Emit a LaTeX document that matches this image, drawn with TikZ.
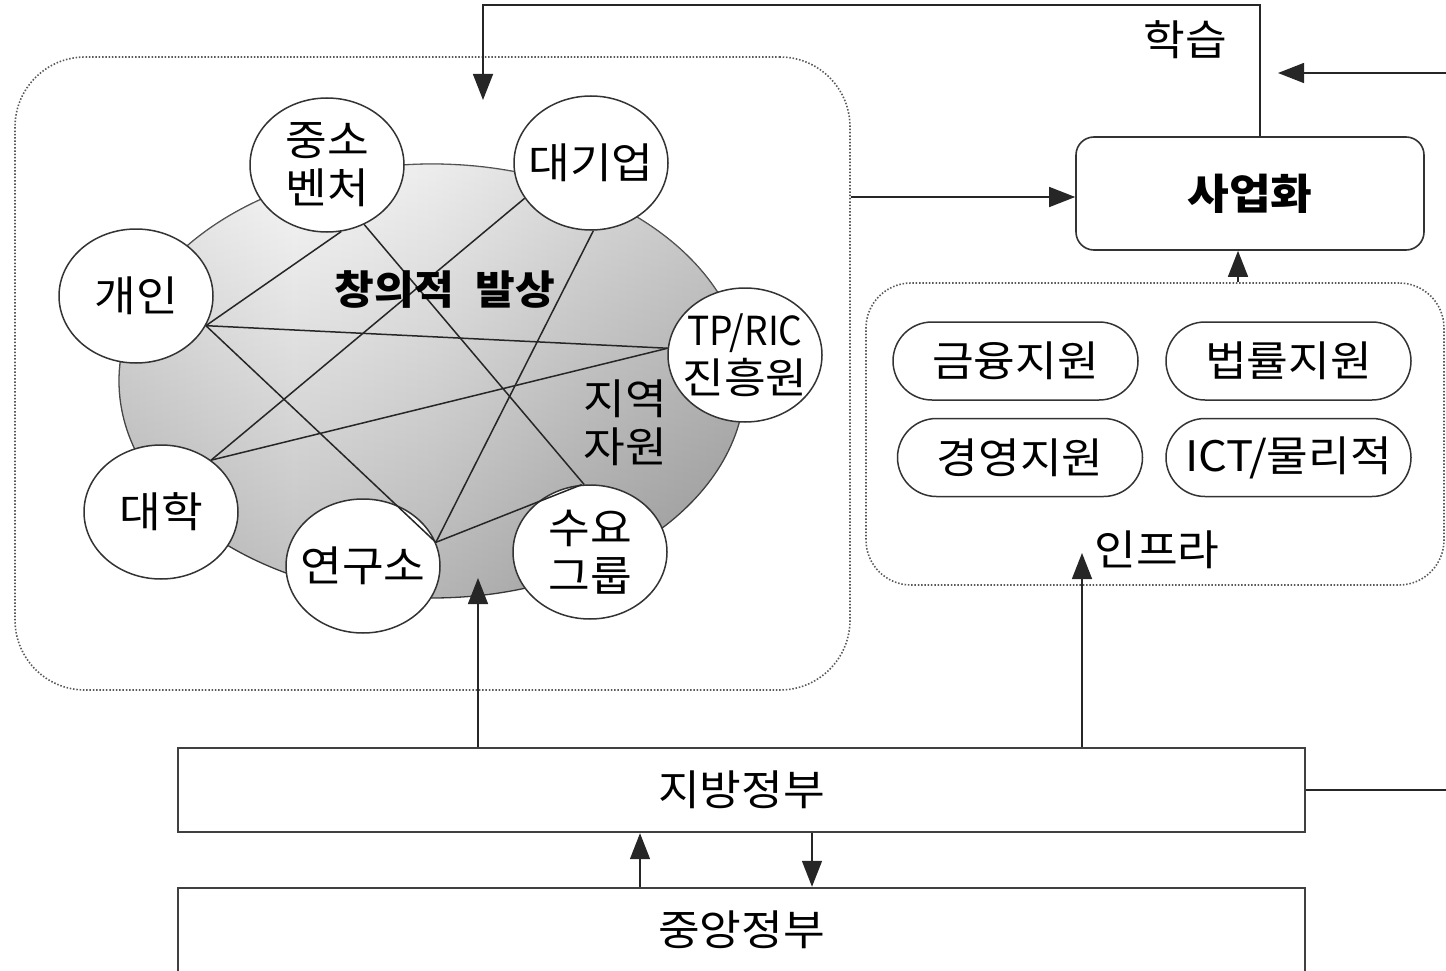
\documentclass[tikz,border=0pt]{standalone}
\usepackage{graphicx}
\usepackage{fontspec}
\setmainfont{Noto Sans CJK KR}[FakeStretch=1.08]
\usetikzlibrary{arrows.meta,shapes.geometric,shapes.misc}
\pgfdeclarehorizontalshading{netshade}{100bp}{color(0bp)=(gray!26); color(25bp)=(gray!26); color(39bp)=(gray!8); color(50bp)=(gray!18); color(62bp)=(gray!36); color(75bp)=(gray!52); color(100bp)=(gray!52)}
\tikzset{
  ln/.style={line width=1.5pt, draw=black!85},
  arr/.style={ln, -{Triangle[length=26pt,width=20pt]}},
  actor/.style={ellipse, draw=black!80, line width=1.5pt, fill=white, minimum width=154pt, minimum height=134pt, inner sep=0pt},
  lbl/.style={font=\fontsize{42}{48}\selectfont, align=center, inner sep=0pt},
  txt/.style={font=\fontsize{42}{48}\selectfont, align=center, inner sep=0pt},
  pill/.style={rounded rectangle, draw=black!80, line width=1.5pt, minimum width=245pt, minimum height=78pt, inner sep=0pt, font=\fontsize{42}{48}\selectfont},
  dotbox/.style={draw=black!65, line width=1.6pt, dash pattern=on 1.5pt off 1.8pt},
  govbox/.style={rectangle, draw=black!75, line width=2.4pt, minimum width=1127pt, inner sep=0pt, font=\fontsize{42}{48}\selectfont}
}
\begin{document}
\begin{tikzpicture}[x=1pt,y=-1pt]
\useasboundingbox (0,0) rectangle (1446,971);
% outer dotted box
\node[dotbox, rectangle, rounded corners=70pt, minimum width=835pt, minimum height=633pt] (outer) at (432.5,373.5) {};
% infra box
\node[dotbox, rectangle, rounded corners=45pt, minimum width=578pt, minimum height=302pt] (infra) at (1155,434) {};
% big ellipse
\node[ellipse, draw=black!75, line width=1.3pt, shading=netshade, minimum width=626pt, minimum height=434pt,
  postaction={top color=white, bottom color=black, fill opacity=0.22, draw=none}] (net) at (432,381) {};
% actors
\node[actor, label={[lbl]center:{중소\\벤처}}] (jungso) at (327,165) {};
\node[actor, label={[lbl]center:{대기업}}] (daegi) at (591,163) {};
\node[actor, label={[lbl]center:{개인}}] (gaein) at (136,296) {};
\node[actor, label={[lbl]center:{\scalebox{0.86}[1]{\fontsize{40}{48}\selectfont TP/RIC}\\진흥원}}] (tp) at (745,355) {};
\node[actor, label={[lbl]center:{대학}}] (daehak) at (161,512) {};
\node[actor, label={[lbl]center:{연구소}}] (yeongu) at (363,566) {};
\node[actor, label={[lbl]center:{수요\\그룹}}] (suyo) at (590,552) {};
% network lines
\draw[ln] (gaein.-23) -- (tp.175);
\draw[ln] (gaein.-23) -- (jungso.-78);
\draw[ln] (gaein.-23) -- (yeongu.18);
\draw[ln] (jungso.-58) -- (suyo.95);
\draw[ln] (daegi.-152) -- (daehak.46);
\draw[ln] (daegi.-88) -- (yeongu.18);
\draw[ln] (daehak.46) -- (tp.175);
\draw[ln] (yeongu.18) -- (suyo.97);
% labels in ellipse
\node[txt, font=\fontsize{40}{44}\selectfont\bfseries] (idea) at (445,290) {창의적\hspace{0.55em}발상};
\node[txt] (region) at (625,423) {지역\\자원};
% commercialization
\node[rectangle, rounded corners=18pt, draw=black!80, line width=1.6pt, minimum width=348pt, minimum height=113pt, font=\fontsize{42}{48}\selectfont\bfseries] (saeop) at (1250,193.5) {사업화};
% pills
\node[pill] (geum) at (1015.5,361) {금융지원};
\node[pill] (beop) at (1288.5,361) {법률지원};
\node[pill] (gyeong) at (1020,457.5) {경영지원};
\node[pill] (ict) at (1288.5,457.5) {ICT/물리적};
\node[txt] (infralbl) at (1157,550) {인프라};
% governments
\node[govbox, minimum height=84pt] (jibang) at (741.5,790) {지방정부};
\node[govbox, minimum height=102pt] (jungang) at (741.5,939) {};
\node[txt] (jungangtxt) at (741.5,930) {중앙정부};
% learning loop
\node[txt] (hakseup) at (1185,40) {학습};
\coordinate (fbtip) at (483,100);
\draw[arr] (saeop.north -| 1260,0) -- (1260,5) -| (fbtip);
% outer -> saeop
\draw[arr] (outer.east |- 0,197) -- (saeop.west |- 0,197);
% infra -> saeop
\draw[arr] (infra.north -| 1238,0) -- (saeop.south -| 1238,0);
% jibang -> network
\coordinate (nettip) at (478,578);
\draw[arr] (jibang.north -| 478,0) -- (nettip);
% jibang -> infra
\coordinate (infratip) at (1082,553);
\draw[arr] (jibang.north -| 1082,0) -- (infratip);
% between governments
\draw[arr] (jungang.north -| 640,0) -- (jibang.south -| 640,0);
\draw[arr] (jibang.south -| 812,0) -- (jungang.north -| 812,0);
% right loop
\coordinate (rtip) at (1278,73);
\draw[arr] (jibang.east) -- (1452,790) -- (1452,73) -- (rtip);
\end{tikzpicture}
\end{document}
